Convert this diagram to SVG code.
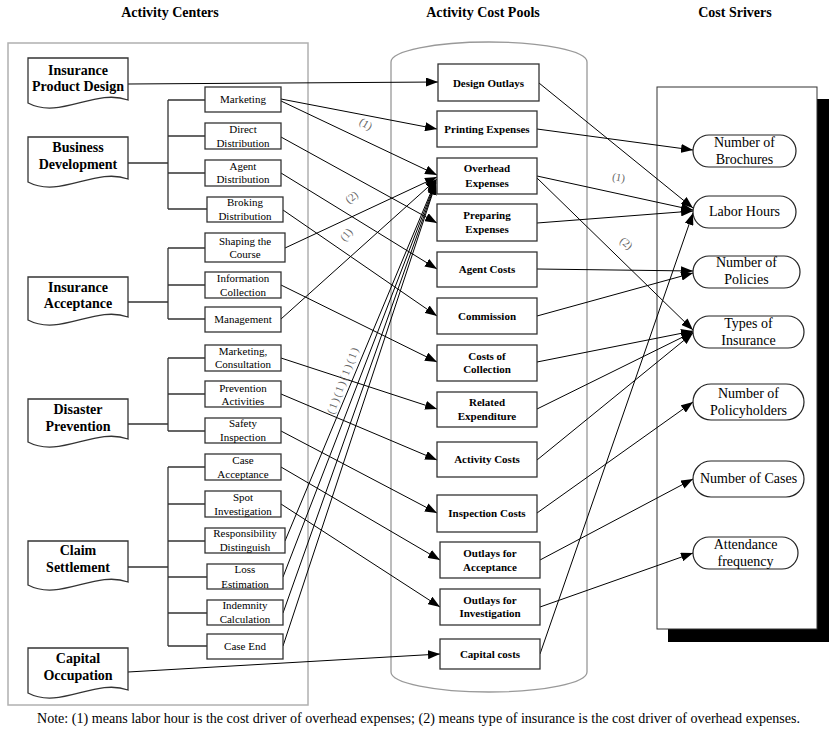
<svg xmlns="http://www.w3.org/2000/svg" width="835" height="729" viewBox="0 0 835 729">
<defs>
<marker id="arr" markerUnits="userSpaceOnUse" markerWidth="13" markerHeight="9" refX="12" refY="4.5" orient="auto">
<path d="M0,0 L12,4.5 L0,9 Z" fill="#000"/>
</marker>
<style>
.title{font-family:"Liberation Serif",serif;font-weight:bold;font-size:14px;text-anchor:middle;fill:#000}
.doc{fill:#fff;stroke:#333;stroke-width:1.3}
.doct{font-family:"Liberation Serif",serif;font-weight:bold;font-size:14px;text-anchor:middle;fill:#000}
.sb{fill:#fff;stroke:#333;stroke-width:1.3}
.sbt{font-family:"Liberation Serif",serif;font-size:11px;text-anchor:middle;fill:#000}
.mb{fill:#fff;stroke:#333;stroke-width:1.3}
.mbt{font-family:"Liberation Serif",serif;font-weight:bold;font-size:11px;text-anchor:middle;fill:#000}
.pill{fill:#fff;stroke:#222;stroke-width:1.2}
.pt{font-family:"Liberation Serif",serif;font-size:14px;text-anchor:middle;fill:#000}
.tree{fill:none;stroke:#333;stroke-width:1.3}
.ln{fill:none;stroke:#000;stroke-width:1}
.ar{fill:none;stroke:#000;stroke-width:1;marker-end:url(#arr)}
.lbl{font-family:"Liberation Serif",serif;font-size:11px;text-anchor:middle;fill:#666}
.note{font-family:"Liberation Serif",serif;font-size:14px;fill:#000}
</style>
</defs>
<rect width="835" height="729" fill="#fff"/>

<!-- titles -->
<text class="title" x="170" y="17">Activity Centers</text>
<text class="title" x="483" y="17">Activity Cost Pools</text>
<text class="title" x="735" y="17">Cost Srivers</text>

<!-- containers -->
<rect x="8" y="43" width="300" height="662" fill="none" stroke="#b0b0b0" stroke-width="1.5"/>
<path d="M391,672 L391,62 A98,20 0 0 1 587,62 L587,672 A98,20 0 0 1 391,672 Z" fill="none" stroke="#999" stroke-width="1.3"/>
<rect x="668" y="99" width="161" height="543" fill="#000"/>
<rect x="657" y="87" width="160" height="542" fill="#fff" stroke="#333" stroke-width="1"/>

<!-- connectors -->
<g id="connectors">
<path class="tree" d="M128,163 H168 M168,100 V209 M168,100 H205 M168,136 H205 M168,173 H205 M168,209 H207"/>
<path class="tree" d="M128,302 H168 M168,248 V319 M168,248 H205 M168,285 H205 M168,319 H205"/>
<path class="tree" d="M128,424 H168 M168,358 V431 M168,358 H205 M168,394 H205 M168,431 H205"/>
<path class="tree" d="M128,567 H168 M168,467 V646 M168,467 H205 M168,504 H205 M168,541 H205 M168,577 H207 M168,613 H207 M168,646 H207"/>

<line class="ar" x1="128" y1="84" x2="438" y2="82"/>
<line class="ar" x1="281" y1="99" x2="437" y2="129"/>
<line class="ar" x1="281" y1="101" x2="437" y2="175"/>
<line class="ar" x1="281" y1="137" x2="437" y2="223"/>
<line class="ar" x1="281" y1="173" x2="437" y2="269"/>
<line class="ar" x1="283" y1="210" x2="437" y2="316"/>
<line class="ar" x1="285" y1="248" x2="437" y2="177"/>
<line class="ar" x1="281" y1="285" x2="437" y2="362"/>
<line class="ar" x1="281" y1="319" x2="437" y2="179"/>
<line class="ar" x1="281" y1="358" x2="437" y2="409"/>
<line class="ar" x1="281" y1="394" x2="437" y2="460"/>
<line class="ar" x1="281" y1="431" x2="437" y2="513"/>
<line class="ar" x1="281" y1="467" x2="440" y2="560"/>
<line class="ar" x1="281" y1="504" x2="440" y2="607"/>
<line class="ar" x1="285" y1="541" x2="436" y2="180"/>
<line class="ar" x1="283" y1="577" x2="436" y2="181"/>
<line class="ar" x1="283" y1="613" x2="436" y2="182"/>
<line class="ar" x1="283" y1="646" x2="436" y2="183"/>
<line class="ar" x1="128" y1="672" x2="440" y2="654"/>

<line class="ar" x1="539" y1="83" x2="693" y2="208"/>
<line class="ar" x1="537" y1="129" x2="693" y2="150"/>
<line class="ar" x1="537" y1="176" x2="693" y2="210"/>
<line class="ar" x1="537" y1="178" x2="693" y2="330"/>
<line class="ar" x1="537" y1="223" x2="693" y2="211"/>
<line class="ar" x1="537" y1="269" x2="693" y2="271"/>
<line class="ar" x1="537" y1="316" x2="693" y2="273"/>
<line class="ar" x1="537" y1="362" x2="693" y2="331"/>
<line class="ar" x1="537" y1="409" x2="693" y2="332"/>
<line class="ar" x1="537" y1="460" x2="693" y2="333"/>
<line class="ar" x1="537" y1="513" x2="693" y2="402"/>
<line class="ar" x1="540" y1="560" x2="693" y2="479"/>
<line class="ar" x1="540" y1="607" x2="693" y2="553"/>
<line class="ar" x1="540" y1="654" x2="693" y2="213"/>

<text class="lbl" transform="translate(364,127) rotate(30)">(1)</text>
<text class="lbl" transform="translate(354,200) rotate(-40)">(2)</text>
<text class="lbl" transform="translate(349,237) rotate(-50)">(1)</text>
<text class="lbl" transform="translate(346,382) rotate(-69)" textLength="70" lengthAdjust="spacing">(1)(1)(1)(1)</text>
<text class="lbl" transform="translate(618,181) rotate(10)">(1)</text>
<text class="lbl" transform="translate(624,246) rotate(40)">(2)</text>
</g>

<!-- activity centers -->
<g id="ipd"><path class="doc" d="M28,58 H128 V100 C95,88 60,120 28,103 Z"/><text class="doct" x="78" y="75">Insurance</text><text class="doct" x="78" y="91">Product Design</text></g>
<g id="bd"><path class="doc" d="M28,137 H128 V179 C95,167 60,199 28,182 Z"/><text class="doct" x="78" y="152">Business</text><text class="doct" x="78" y="169">Development</text></g>
<g id="ia"><path class="doc" d="M28,277 H128 V317 C95,305 60,337 28,320 Z"/><text class="doct" x="78" y="292">Insurance</text><text class="doct" x="78" y="308">Acceptance</text></g>
<g id="dp"><path class="doc" d="M28,399 H128 V439 C95,427 60,459 28,442 Z"/><text class="doct" x="78" y="414">Disaster</text><text class="doct" x="78" y="431">Prevention</text></g>
<g id="cs"><path class="doc" d="M28,541 H128 V582 C95,570 60,602 28,585 Z"/><text class="doct" x="78" y="555">Claim</text><text class="doct" x="78" y="572">Settlement</text></g>
<g id="co"><path class="doc" d="M28,648 H128 V690 C95,678 60,710 28,693 Z"/><text class="doct" x="78" y="663">Capital</text><text class="doct" x="78" y="680">Occupation</text></g>

<!-- sub activities -->
<g id="s-marketing"><rect class="sb" x="205" y="87" width="76" height="25"/><text class="sbt" x="243" y="103">Marketing</text></g>
<g id="s-direct"><rect class="sb" x="205" y="123" width="76" height="26"/><text class="sbt" x="243" y="133">Direct</text><text class="sbt" x="243" y="147">Distribution</text></g>
<g id="s-agent"><rect class="sb" x="205" y="160" width="76" height="26"/><text class="sbt" x="243" y="170">Agent</text><text class="sbt" x="243" y="183">Distribution</text></g>
<g id="s-broking"><rect class="sb" x="207" y="197" width="76" height="25"/><text class="sbt" x="245" y="206">Broking</text><text class="sbt" x="245" y="220">Distribution</text></g>
<g id="s-shaping"><rect class="sb" x="205" y="233" width="80" height="29"/><text class="sbt" x="245" y="245">Shaping the</text><text class="sbt" x="245" y="258">Course</text></g>
<g id="s-info"><rect class="sb" x="205" y="272" width="76" height="26"/><text class="sbt" x="243" y="282">Information</text><text class="sbt" x="243" y="296">Collection</text></g>
<g id="s-mgmt"><rect class="sb" x="205" y="307" width="76" height="25"/><text class="sbt" x="243" y="323">Management</text></g>
<g id="s-mktcons"><rect class="sb" x="205" y="345" width="76" height="26"/><text class="sbt" x="243" y="355">Marketing,</text><text class="sbt" x="243" y="368">Consultation</text></g>
<g id="s-prev"><rect class="sb" x="205" y="381" width="76" height="26"/><text class="sbt" x="243" y="392">Prevention</text><text class="sbt" x="243" y="405">Activities</text></g>
<g id="s-safety"><rect class="sb" x="205" y="418" width="76" height="25"/><text class="sbt" x="243" y="427">Safety</text><text class="sbt" x="243" y="441">Inspection</text></g>
<g id="s-caseacc"><rect class="sb" x="205" y="454" width="76" height="26"/><text class="sbt" x="243" y="464">Case</text><text class="sbt" x="243" y="478">Acceptance</text></g>
<g id="s-spot"><rect class="sb" x="205" y="491" width="76" height="26"/><text class="sbt" x="243" y="501">Spot</text><text class="sbt" x="243" y="515">Investigation</text></g>
<g id="s-resp"><rect class="sb" x="205" y="528" width="80" height="25"/><text class="sbt" x="245" y="537">Responsibility</text><text class="sbt" x="245" y="551">Distinguish</text></g>
<g id="s-loss"><rect class="sb" x="207" y="564" width="76" height="25"/><text class="sbt" x="245" y="573">Loss</text><text class="sbt" x="245" y="588">Estimation</text></g>
<g id="s-indem"><rect class="sb" x="207" y="600" width="76" height="25"/><text class="sbt" x="245" y="609">Indemnity</text><text class="sbt" x="245" y="623">Calculation</text></g>
<g id="s-caseend"><rect class="sb" x="207" y="634" width="76" height="25"/><text class="sbt" x="245" y="650">Case End</text></g>

<!-- cost pools -->
<g id="p-design"><rect class="mb" x="438" y="64" width="101" height="37"/><text class="mbt" x="488.5" y="87">Design Outlays</text></g>
<g id="p-print"><rect class="mb" x="437" y="111" width="100" height="36"/><text class="mbt" x="487" y="133">Printing Expenses</text></g>
<g id="p-overhead"><rect class="mb" x="437" y="158" width="100" height="36"/><text class="mbt" x="487" y="172">Overhead</text><text class="mbt" x="487" y="187">Expenses</text></g>
<g id="p-prep"><rect class="mb" x="437" y="204" width="100" height="37"/><text class="mbt" x="487" y="219">Preparing</text><text class="mbt" x="487" y="233">Expenses</text></g>
<g id="p-agent"><rect class="mb" x="437" y="252" width="100" height="35"/><text class="mbt" x="487" y="273">Agent Costs</text></g>
<g id="p-comm"><rect class="mb" x="437" y="298" width="100" height="36"/><text class="mbt" x="487" y="320">Commission</text></g>
<g id="p-coll"><rect class="mb" x="437" y="345" width="100" height="36"/><text class="mbt" x="487" y="360">Costs of</text><text class="mbt" x="487" y="373">Collection</text></g>
<g id="p-related"><rect class="mb" x="437" y="392" width="100" height="35"/><text class="mbt" x="487" y="406">Related</text><text class="mbt" x="487" y="420">Expenditure</text></g>
<g id="p-activity"><rect class="mb" x="437" y="442" width="100" height="35"/><text class="mbt" x="487" y="463">Activity Costs</text></g>
<g id="p-insp"><rect class="mb" x="437" y="495" width="100" height="37"/><text class="mbt" x="487" y="517">Inspection Costs</text></g>
<g id="p-oacc"><rect class="mb" x="440" y="542" width="100" height="36"/><text class="mbt" x="490" y="557">Outlays for</text><text class="mbt" x="490" y="571">Acceptance</text></g>
<g id="p-oinv"><rect class="mb" x="440" y="589" width="100" height="36"/><text class="mbt" x="490" y="604">Outlays for</text><text class="mbt" x="490" y="617">Investigation</text></g>
<g id="p-capital"><rect class="mb" x="440" y="639" width="100" height="30"/><text class="mbt" x="490" y="658">Capital costs</text></g>

<!-- cost drivers -->
<g id="d-broch"><rect class="pill" x="693" y="135" width="103" height="32" rx="16"/><text class="pt" x="744.5" y="147">Number of</text><text class="pt" x="744.5" y="164">Brochures</text></g>
<g id="d-labor"><rect class="pill" x="693" y="196" width="103" height="32" rx="16"/><text class="pt" x="744.5" y="216">Labor Hours</text></g>
<g id="d-policies"><rect class="pill" x="693" y="256" width="107" height="32" rx="16"/><text class="pt" x="746.5" y="267">Number of</text><text class="pt" x="746.5" y="284">Policies</text></g>
<g id="d-types"><rect class="pill" x="693" y="316" width="111" height="32" rx="16"/><text class="pt" x="748.5" y="328">Types of</text><text class="pt" x="748.5" y="345">Insurance</text></g>
<g id="d-holders"><rect class="pill" x="693" y="384" width="111" height="36" rx="18"/><text class="pt" x="748.5" y="398">Number of</text><text class="pt" x="748.5" y="415">Policyholders</text></g>
<g id="d-cases"><rect class="pill" x="693" y="461" width="111" height="36" rx="18"/><text class="pt" x="748.5" y="483">Number of Cases</text></g>
<g id="d-attend"><rect class="pill" x="693" y="537" width="105" height="32" rx="16"/><text class="pt" x="745.5" y="549">Attendance</text><text class="pt" x="745.5" y="566">frequency</text></g>

<text class="note" x="37" y="723" textLength="763" lengthAdjust="spacingAndGlyphs">Note: (1) means labor hour is the cost driver of overhead expenses; (2) means type of insurance is the cost driver of overhead expenses.</text>
</svg>
